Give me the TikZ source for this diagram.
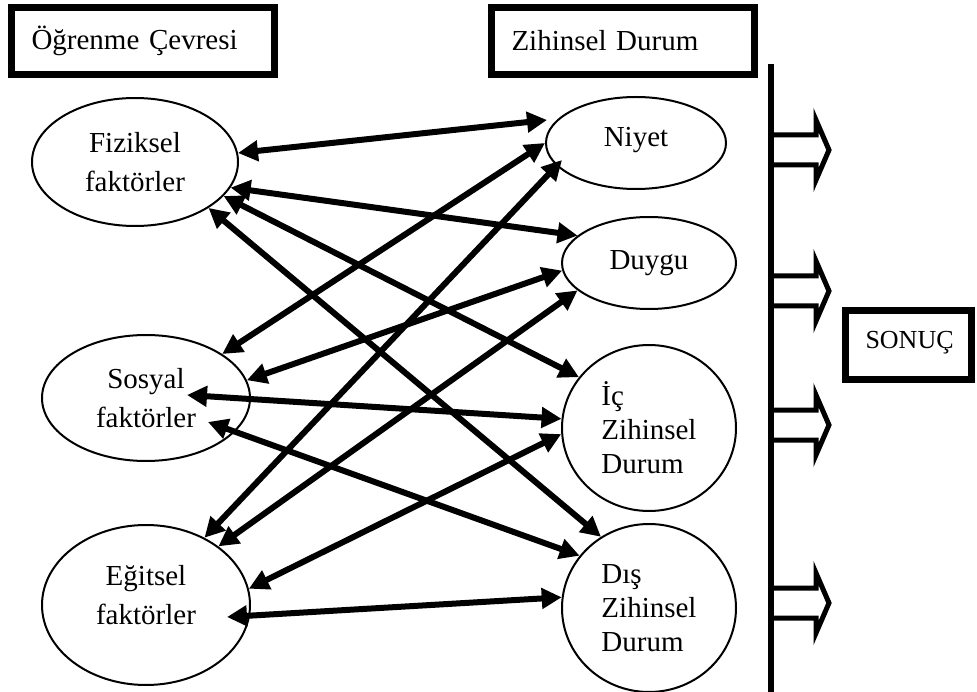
\documentclass[tikz,border=0pt]{standalone}
\usepackage{fontspec}
\setmainfont{Liberation Serif}
\usetikzlibrary{shapes.geometric,arrows.meta,calc}

\begin{document}
\begin{tikzpicture}[x=1pt, y=-1pt,
        factor/.style={draw, ellipse, line width=2pt, inner sep=0pt, align=center, font=\fontsize{29}{39}\selectfont},
        state/.style={draw, ellipse, line width=2pt, inner sep=0pt, align=left, font=\fontsize{29}{34}\selectfont},
        titlebox/.style={draw, line width=7pt, minimum height=67pt, text width=223pt, inner xsep=20pt, align=left, font=\fontsize{29}{34}\selectfont},
        link/.style={line width=6pt, {Triangle[length=20pt,width=20pt]}-{Triangle[length=20pt,width=20pt]}}]
        \useasboundingbox (0,0) rectangle (977,692);

        \node[titlebox] (env) at (143,41) {Öğrenme Çevresi};
        \node[titlebox] (mind) at (623,41) {Zihinsel Durum};
        \node[titlebox, text width=86pt, minimum height=69pt, align=center, font=\fontsize{26}{30}\selectfont] (res) at (908.5,345) {SONUÇ\\[-20pt]\mbox{}};

        \node[factor, minimum width=206pt, minimum height=128pt] (fiz) at (135,162) {Fiziksel\\faktörler};
        \node[factor, minimum width=208pt, minimum height=126pt] (sos) at (146,398) {Sosyal\\faktörler};
        \node[factor, minimum width=208pt, minimum height=160pt] (egi) at (146,605) {Eğitsel\\faktörler\\[-19pt]\mbox{}};

        \node[state, minimum width=180pt, minimum height=92pt] (niy) at (636,143) {Niyet\\[-22pt]\mbox{}};
        \node[state, minimum width=174pt, minimum height=92pt] (duy) at (649,263) {Duygu};
        \node[state, minimum width=174pt, minimum height=166pt] (ic) at (649,428) {İç\\Zihinsel\\Durum};
        \node[state, minimum width=174pt, minimum height=168pt] (dis) at (649,608) {Dış\\Zihinsel\\Durum};

        \draw[link] (fiz.5) -- ($(niy.center)+(-89,-23)$);
        \draw[link] (fiz.-15) -- (duy.159);
        \draw[link] (fiz.-21) -- (ic.144);
        \draw[link] (fiz.-32) -- (dis.124);
        \draw[link] (sos.30) -- (niy.180);
        \draw[link] (sos.10) -- (duy.185);
        \draw[link] ($(sos.center)+(41,-3)$) -- (ic.174);
        \draw[link] ($(sos.center)+(62,24)$) -- (dis.143);
        \draw[link] (egi.49) -- ($(niy.center)+(-74,17)$);
        \draw[link] (egi.39) -- (duy.201);
        \draw[link] (egi.9) -- (ic.184);
        \draw[link] ($(egi.center)+(81,12)$) -- (dis.173);

        \foreach \y in {150,291,425,603}
            \draw[line width=5pt, fill=white] (771,\y-15) -- (816,\y-15) -- (816,\y-30) -- (829,\y) -- (816,\y+30) -- (816,\y+15) -- (771,\y+15);
        \draw[line width=6pt] (771,64) -- (771,692);
    \end{tikzpicture}
\end{document}
